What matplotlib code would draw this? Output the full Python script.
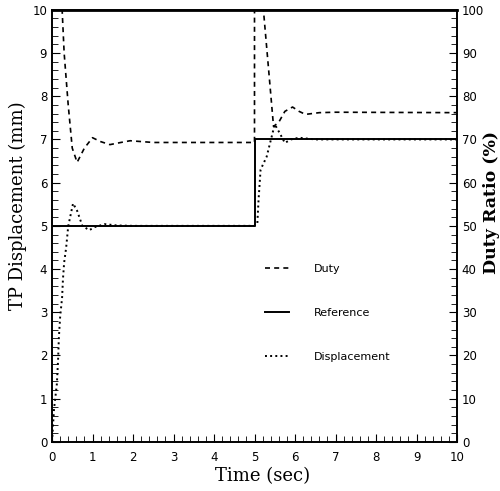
import numpy as np
import matplotlib.pyplot as plt
from matplotlib.ticker import MultipleLocator

# Reference step (mm)
ref_t = [0, 5, 5, 10]
ref_y = [5, 5, 7, 7]

disp_t = [0, 0.05, 0.12, 0.15, 0.17, 0.2, 0.25, 0.27, 0.3, 0.35, 0.4, 0.52, 0.62,
          0.75, 0.92, 1.05, 1.3, 1.6, 2.0, 5.0, 5.07, 5.1, 5.15, 5.3, 5.5, 5.62,
          5.75, 5.9, 6.1, 6.5, 10]
disp_y = [0, 0.76, 1.34, 1.9, 2.42, 2.88, 3.35, 3.76, 4.15, 4.5, 4.99, 5.52, 5.35,
          5.0, 4.9, 4.97, 5.04, 5.01, 5.0, 5.0, 5.05, 5.6, 6.3, 6.6, 7.35, 7.15,
          6.92, 7.0, 7.04, 7.0, 7.0]

# Duty ratio (%)
duty_t = [0, 0.25, 0.3, 0.4, 0.5, 0.62, 0.8, 1.0, 1.2, 1.43, 1.7, 1.93, 2.5, 5.0,
          5.0, 5.22, 5.35, 5.47, 5.6, 5.75, 5.94, 6.1, 6.26, 6.6, 7.0, 10]
duty_y = [100, 100, 90, 78, 68, 64.7, 68, 70.4, 69.5, 68.8, 69.3, 69.7, 69.3, 69.3,
          100, 100, 86, 73, 74, 76.5, 77.5, 76.5, 75.8, 76.2, 76.3, 76.2]

fig = plt.figure(figsize=(5, 4.91), dpi=100)
ax = fig.add_axes([0.104, 0.1, 0.81, 0.88])
ax2 = ax.twinx()

ax2.plot(duty_t, duty_y, 'k--', lw=1.2, dashes=(3, 2.5), label='Duty')
l_ref, = ax.plot(ref_t, ref_y, 'k-', lw=1.4, label='Reference')
l_dis, = ax.plot(disp_t, disp_y, 'k:', lw=1.4, label='Displacement')

ax.set_xlim(0, 10)
ax.set_ylim(0, 10)
ax2.set_ylim(0, 100)

ax.xaxis.set_major_locator(MultipleLocator(1))
ax.xaxis.set_minor_locator(MultipleLocator(0.2))
ax.yaxis.set_major_locator(MultipleLocator(1))
ax.yaxis.set_minor_locator(MultipleLocator(0.2))
ax2.yaxis.set_major_locator(MultipleLocator(10))
ax2.yaxis.set_minor_locator(MultipleLocator(2))

ax.tick_params(axis='x', which='both', direction='in', top=False, labelsize=8.5, pad=6.5)
ax.tick_params(axis='x', which='major', length=6)
ax.tick_params(axis='x', which='minor', length=4)
ax.tick_params(axis='y', which='both', direction='in', labelsize=8.5)
ax.tick_params(axis='y', which='major', length=6)
ax.tick_params(axis='y', which='minor', length=4)
ax2.tick_params(axis='y', which='both', direction='in', labelsize=8.5)
ax2.tick_params(axis='y', which='major', length=6)
ax2.tick_params(axis='y', which='minor', length=4)

for a in (ax, ax2):
    for s in a.spines.values():
        s.set_linewidth(1.2)
ax.spines['top'].set_linewidth(2)

serif = 'DejaVu Serif'
ax.set_xlabel('Time (sec)', family=serif, fontsize=13)
ax.xaxis.set_label_coords(0.52, -0.058)
ax.set_ylabel('TP Displacement (mm)', family=serif, fontsize=13)
ax.yaxis.set_label_coords(-0.062, 0.546)
ax2.set_ylabel('Duty Ratio (%)', family=serif, fontsize=12.5, fontweight='bold',
               rotation=90)
ax2.yaxis.set_label_coords(1.064, 0.555)

h = [ax2.lines[0], l_ref, l_dis]
ax.legend(h, [x.get_label() for x in h], loc='upper left',
          bbox_to_anchor=(0.5, 0.435), frameon=False, fontsize=8,
          handlelength=2.2, handletextpad=2.2, labelspacing=3.05)

fig.savefig('out.png', dpi=100)
